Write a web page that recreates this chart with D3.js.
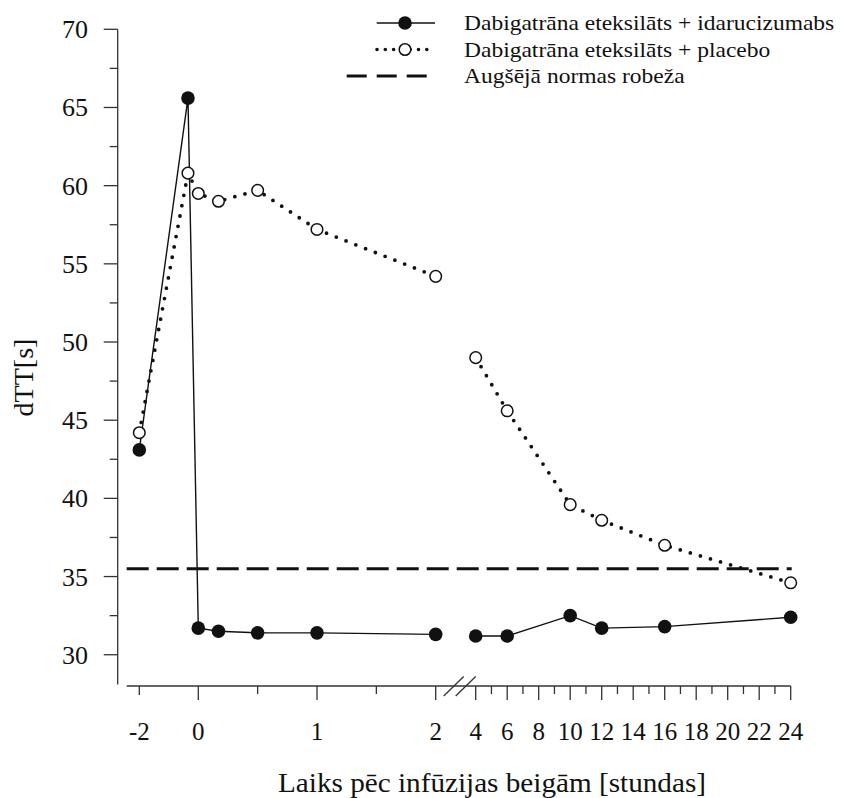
<!DOCTYPE html>
<meta charset="utf-8">
<style>
body { margin: 0; background: #fff; }
svg { font-family: "Liberation Serif", "Times New Roman", serif; }
</style>
<body>
<svg width="842" height="798"></svg>
<script src="https://d3js.org/d3.v7.min.js"></script>
<script>

// hours after end of infusion (left part is -2..2, right part 4..24 after the axis break)
var hours = [-2, -0.35, 0, 0.17, 0.5, 1, 2, 4, 6, 10, 12, 16, 24];
var idarucizumab = [43.1, 65.6, 31.7, 31.5, 31.4, 31.4, 31.3, 31.2, 31.2, 32.5, 31.7, 31.8, 32.4];
var placebo = [44.2, 60.8, 59.5, 59.0, 59.7, 57.2, 54.2, 49.0, 45.6, 39.6, 38.6, 37.0, 34.6];
var upperLimit = 35.5;

var xMajor = [-2, 0, 1, 2, 4, 6, 8, 10, 12, 14, 16, 18, 20, 22, 24];
var xMinor = [0.5, 1.5, 5, 7, 9, 11, 13, 15, 17, 19, 21, 23];
var yMajor = [30, 35, 40, 45, 50, 55, 60, 65, 70];
var yMinor = [32.5, 37.5, 42.5, 47.5, 52.5, 57.5, 62.5, 67.5];

var legendLabels = ["Dabigatrāna eteksilāts + idarucizumabs",
                    "Dabigatrāna eteksilāts + placebo",
                    "Augšējā normas robeža"];

var svg = d3.select("svg");
var ink = "#111";

// piecewise x: compressed pre-dose part, 0..2 h, break, 4..24 h
var x = d3.scaleLinear()
    .domain([-2, 0, 2, 4, 24])
    .range([139.3, 198.3, 435.7, 475.7, 790.7]);

var y = d3.scaleLinear()
    .domain([28, 70])
    .range([686, 29.3]);

var axisY = 686, axisLeft = 126.7, yAxisX = 117.7;

// y axis
svg.append("line")
    .attr("x1", yAxisX).attr("x2", yAxisX)
    .attr("y1", y(70)).attr("y2", y(28.1))
    .attr("stroke", "#333").attr("stroke-width", 1.3);

svg.selectAll(".ymaj").data(yMajor).enter().append("line")
    .attr("x1", yAxisX - 14).attr("x2", yAxisX)
    .attr("y1", function(d) { return y(d); })
    .attr("y2", function(d) { return y(d); })
    .attr("stroke", "#333").attr("stroke-width", 1.3);

svg.selectAll(".ymin").data(yMinor).enter().append("line")
    .attr("x1", yAxisX - 8).attr("x2", yAxisX)
    .attr("y1", function(d) { return y(d); })
    .attr("y2", function(d) { return y(d); })
    .attr("stroke", "#333").attr("stroke-width", 1.3);

svg.selectAll(".ylab").data(yMajor).enter().append("text")
    .attr("x", 88)
    .attr("y", function(d) { return y(d) + 9; })
    .attr("text-anchor", "end")
    .style("font-size", "26px")
    .attr("fill", ink)
    .text(function(d) { return d; });

// x axis
svg.append("line")
    .attr("x1", axisLeft).attr("x2", x(24))
    .attr("y1", axisY).attr("y2", axisY)
    .attr("stroke", "#333").attr("stroke-width", 1.3);

svg.selectAll(".xmaj").data(xMajor).enter().append("line")
    .attr("x1", function(d) { return x(d); })
    .attr("x2", function(d) { return x(d); })
    .attr("y1", axisY)
    .attr("y2", function(d) { return d === -2 ? axisY + 9 : axisY + 14; })
    .attr("stroke", "#333").attr("stroke-width", 1.3);

svg.selectAll(".xmin").data(xMinor).enter().append("line")
    .attr("x1", function(d) { return x(d); })
    .attr("x2", function(d) { return x(d); })
    .attr("y1", axisY).attr("y2", axisY + 8)
    .attr("stroke", "#333").attr("stroke-width", 1.3);

svg.selectAll(".xlab").data(xMajor).enter().append("text")
    .attr("x", function(d) { return x(d); })
    .attr("y", 740)
    .attr("text-anchor", "middle")
    .style("font-size", "25px")
    .attr("fill", ink)
    .text(function(d) { return d; });

// axis break marks
var bx = x(2) + 0.6 * (x(4) - x(2));
[-6, 6].forEach(function(o) {
  svg.append("line")
      .attr("x1", bx + o - 10).attr("y1", axisY + 10)
      .attr("x2", bx + o + 10).attr("y2", axisY - 9.5)
      .attr("stroke", "#333").attr("stroke-width", 1.3);
});

// axis titles
svg.append("text")
    .attr("x", 278).attr("y", 792)
    .style("font-size", "28px")
    .attr("textLength", 428)
    .attr("lengthAdjust", "spacingAndGlyphs")
    .attr("fill", ink)
    .text("Laiks pēc infūzijas beigām [stundas]");

svg.append("text")
    .attr("transform", "translate(33,377.5) rotate(-90)")
    .attr("text-anchor", "middle")
    .style("font-size", "28px")
    .attr("fill", ink)
    .text("dTT[s]");

// upper limit of normal
svg.append("line")
    .attr("x1", axisLeft).attr("x2", x(24) + 1)
    .attr("y1", y(upperLimit)).attr("y2", y(upperLimit))
    .attr("stroke", ink).attr("stroke-width", 3.2)
    .attr("stroke-dasharray", "22,8");

// series
var rows = hours.map(function(h, i) {
  return { h: h, a: idarucizumab[i], p: placebo[i] };
});
var segments = [
  rows.filter(function(d) { return d.h <= 2; }),
  rows.filter(function(d) { return d.h >= 4; })
];

var lineA = d3.line().x(function(d) { return x(d.h); }).y(function(d) { return y(d.a); });
var lineP = d3.line().x(function(d) { return x(d.h); }).y(function(d) { return y(d.p); });

svg.selectAll(".segA").data(segments).enter().append("path")
    .attr("d", lineA)
    .attr("fill", "none")
    .attr("stroke", ink)
    .attr("stroke-width", 1.4);

svg.selectAll(".segP").data(segments).enter().append("path")
    .attr("d", lineP)
    .attr("fill", "none")
    .attr("stroke", ink)
    .attr("stroke-width", 3.8)
    .attr("stroke-linecap", "round")
    .attr("stroke-dasharray", "0,10.5");

svg.selectAll(".dotA").data(rows).enter().append("circle")
    .attr("cx", function(d) { return x(d.h); })
    .attr("cy", function(d) { return y(d.a); })
    .attr("r", 6.8)
    .attr("fill", ink);

svg.selectAll(".dotP").data(rows).enter().append("circle")
    .attr("cx", function(d) { return x(d.h); })
    .attr("cy", function(d) { return y(d.p); })
    .attr("r", 5.8)
    .attr("fill", "#fff")
    .attr("stroke", ink)
    .attr("stroke-width", 1.5);

// legend
var legend = svg.append("g");
var rowY = [23, 49.5, 76];

legend.append("line")
    .attr("x1", 376.7).attr("x2", 435).attr("y1", rowY[0]).attr("y2", rowY[0])
    .attr("stroke", ink).attr("stroke-width", 1.4);
legend.append("circle")
    .attr("cx", 405).attr("cy", rowY[0]).attr("r", 6.8).attr("fill", ink);

legend.append("line")
    .attr("x1", 377).attr("x2", 435).attr("y1", rowY[1]).attr("y2", rowY[1])
    .attr("stroke", ink).attr("stroke-width", 3.6)
    .attr("stroke-linecap", "round")
    .attr("stroke-dasharray", "0,8.3");
legend.append("circle")
    .attr("cx", 405).attr("cy", rowY[1]).attr("r", 5.8)
    .attr("fill", "#fff").attr("stroke", ink).attr("stroke-width", 1.5);

legend.append("line")
    .attr("x1", 346.7).attr("x2", 435).attr("y1", rowY[2]).attr("y2", rowY[2])
    .attr("stroke", ink).attr("stroke-width", 3.2)
    .attr("stroke-dasharray", "20,10");

legend.selectAll("text").data(legendLabels).enter().append("text")
    .attr("transform", function(d, i) {
      return "translate(464," + (rowY[i] + 7) + ") scale(1.12,1)";
    })
    .style("font-size", "21px")
    .attr("fill", ink)
    .text(function(d) { return d; });

</script>
</body>
